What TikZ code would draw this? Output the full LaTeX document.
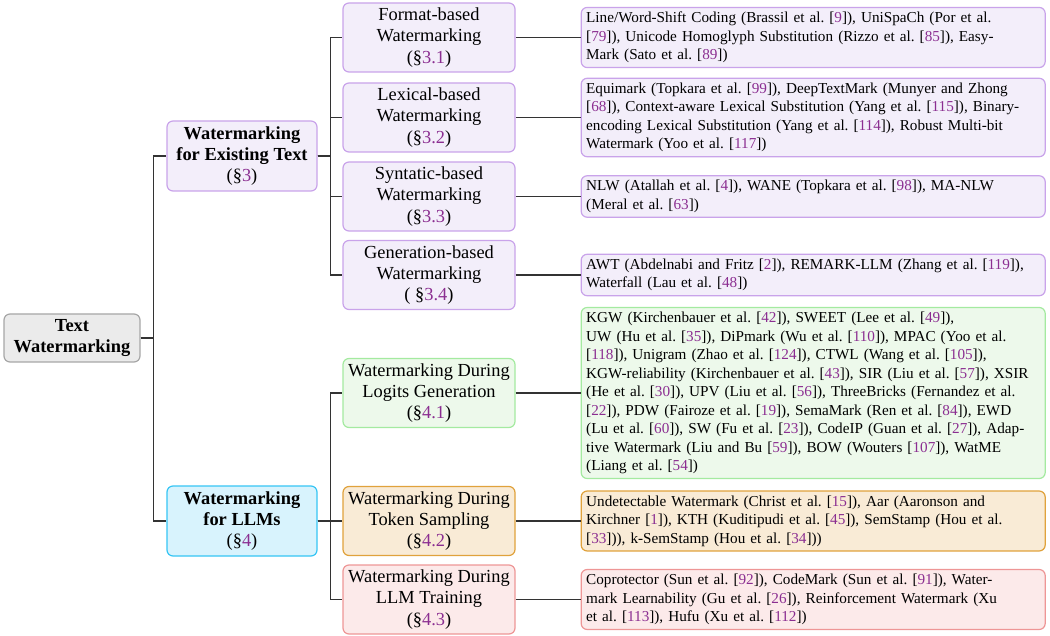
\documentclass[tikz,border=0pt]{standalone}
\usepackage{fontspec}
\setmainfont{Liberation Serif}
\usepackage{tikz}
\usetikzlibrary{positioning}

\definecolor{linkpurple}{HTML}{8B2E91}
\definecolor{rootfill}{HTML}{EBEBEB}
\definecolor{rootdraw}{HTML}{A6A6A6}
\definecolor{exfill}{HTML}{F3EEFA}
\definecolor{exdraw}{HTML}{C9A3EA}
\definecolor{llmfill}{HTML}{D8F3FD}
\definecolor{llmdraw}{HTML}{36C5F4}
\definecolor{logfill}{HTML}{EDF9EB}
\definecolor{logdraw}{HTML}{A4EAA0}
\definecolor{tokfill}{HTML}{F9EBD6}
\definecolor{tokdraw}{HTML}{E0A23C}
\definecolor{trnfill}{HTML}{FCEAEA}
\definecolor{trndraw}{HTML}{EE9696}

\newcommand{\rf}[1]{[\textcolor{linkpurple}{#1}]}
\newcommand{\sect}[1]{(\S\textcolor{linkpurple}{#1})}
\frenchspacing

\begin{document}
\begin{tikzpicture}[x=0.5pt,y=-0.5pt,
  box/.style={draw,rounded corners=3pt,line width=0.6pt,align=center,inner sep=1pt,
    font=\fontsize{9.2}{10.7}\selectfont},
  rootbox/.style={box,fill=rootfill,draw=rootdraw,minimum width=68pt,minimum height=24pt,
    font=\bfseries\fontsize{9.2}{10.5}\selectfont},
  catbox/.style={box,minimum width=75pt,minimum height=35pt,
    font=\bfseries\fontsize{9.2}{10.5}\selectfont},
  subbox/.style={box,minimum width=86pt,minimum height=34.5pt},
  leaf/.style={draw,rounded corners=3pt,line width=0.6pt,align=left,text width=227pt,
    inner xsep=2.5pt,inner ysep=2.3pt,font=\fontsize{7.6}{9.25}\selectfont},
  purple/.style={fill=exfill,draw=exdraw},
  link/.style={line width=0.6pt,black!80}]
  \useasboundingbox (0,0) rectangle (1050,636);

  \node[rootbox] (root) at (72,338) {Text\\Watermarking};

  \node[catbox,purple] (exist) at (242,156) {Watermarking\\for Existing Text\\{\mdseries\sect{3}}};
  \node[catbox,fill=llmfill,draw=llmdraw] (llm) at (242,521) {Watermarking\\for LLMs\\{\mdseries\sect{4}}};

  \node[subbox,purple] (fmt) at (429,37.5) {Format-based\\Watermarking\\\sect{3.1}};
  \node[subbox,purple] (lex) at (429,117.5) {Lexical-based\\Watermarking\\\sect{3.2}};
  \node[subbox,purple] (syn) at (429,196.5) {Syntatic-based\\Watermarking\\\sect{3.3}};
  \node[subbox,purple] (gen) at (429,275) {Generation-based\\Watermarking\\( \S\textcolor{linkpurple}{3.4})};
  \node[subbox,fill=logfill,draw=logdraw] (logit) at (429,393) {Watermarking During\\Logits Generation\\\sect{4.1}};
  \node[subbox,fill=tokfill,draw=tokdraw] (token) at (429,521) {Watermarking During\\Token Sampling\\\sect{4.2}};
  \node[subbox,fill=trnfill,draw=trndraw] (train) at (429,599.5) {Watermarking During\\LLM Training\\\sect{4.3}};

  % reference lists
  \node[leaf,purple,right=32.5pt of fmt] (fmtrefs) {Line/Word-Shift Coding (Brassil et al. \rf{9}), UniSpaCh (Por et al.\\
    \rf{79}), Unicode Homoglyph Substitution (Rizzo et al. \rf{85}), Easy-\\
    Mark (Sato et al. \rf{89})};
  \node[leaf,purple,right=32.5pt of lex] (lexrefs) {Equimark (Topkara et al. \rf{99}), DeepTextMark (Munyer and Zhong\\
    \rf{68}), Context-aware Lexical Substitution (Yang et al. \rf{115}), Binary-\\
    encoding Lexical Substitution (Yang et al. \rf{114}), Robust Multi-bit\\
    Watermark (Yoo et al. \rf{117})};
  \node[leaf,purple,right=32.5pt of syn] (synrefs) {NLW (Atallah et al. \rf{4}), WANE (Topkara et al. \rf{98}), MA-NLW\\
    (Meral et al. \rf{63})};
  \node[leaf,purple,right=32.5pt of gen] (genrefs) {AWT (Abdelnabi and Fritz \rf{2}), REMARK-LLM (Zhang et al. \rf{119}),\\
    Waterfall (Lau et al. \rf{48})};
  \node[leaf,fill=logfill,draw=logdraw,right=32.5pt of logit] (logitrefs) {KGW (Kirchenbauer et al. \rf{42}), SWEET (Lee et al. \rf{49}),\\
    UW (Hu et al. \rf{35}), DiPmark (Wu et al. \rf{110}), MPAC (Yoo et al.\\
    \rf{118}), Unigram (Zhao et al. \rf{124}), CTWL (Wang et al. \rf{105}),\\
    KGW-reliability (Kirchenbauer et al. \rf{43}), SIR (Liu et al. \rf{57}), XSIR\\
    (He et al. \rf{30}), UPV (Liu et al. \rf{56}), ThreeBricks (Fernandez et al.\\
    \rf{22}), PDW (Fairoze et al. \rf{19}), SemaMark (Ren et al. \rf{84}), EWD\\
    (Lu et al. \rf{60}), SW (Fu et al. \rf{23}), CodeIP (Guan et al. \rf{27}), Adap-\\
    tive Watermark (Liu and Bu \rf{59}), BOW (Wouters \rf{107}), WatME\\
    (Liang et al. \rf{54})};
  \node[leaf,fill=tokfill,draw=tokdraw,right=32.5pt of token] (tokenrefs) {Undetectable Watermark (Christ et al. \rf{15}), Aar (Aaronson and\\
    Kirchner \rf{1}), KTH (Kuditipudi et al. \rf{45}), SemStamp (Hou et al.\\
    \rf{33})), k-SemStamp (Hou et al. \rf{34}))};
  \node[leaf,fill=trnfill,draw=trndraw,right=32.5pt of train] (trainrefs) {Coprotector (Sun et al. \rf{92}), CodeMark (Sun et al. \rf{91}), Water-\\
    mark Learnability (Gu et al. \rf{26}), Reinforcement Watermark (Xu\\
    et al. \rf{113}), Hufu (Xu et al. \rf{112})};

  % tree lines
  \foreach \kid in {exist,llm}
    \draw[link] (root.east) -- ++(13,0) |- (\kid.west);
  \foreach \kid in {fmt,lex,syn,gen}
    \draw[link] (exist.east) -- ++(13,0) |- (\kid.west);
  \foreach \kid in {logit,token,train}
    \draw[link] (llm.east) -- ++(13,0) |- (\kid.west);
  \foreach \kid in {fmt,lex,syn,gen,logit,token,train}
    \draw[link] (\kid.east) -- (\kid refs.west);
\end{tikzpicture}
\end{document}
